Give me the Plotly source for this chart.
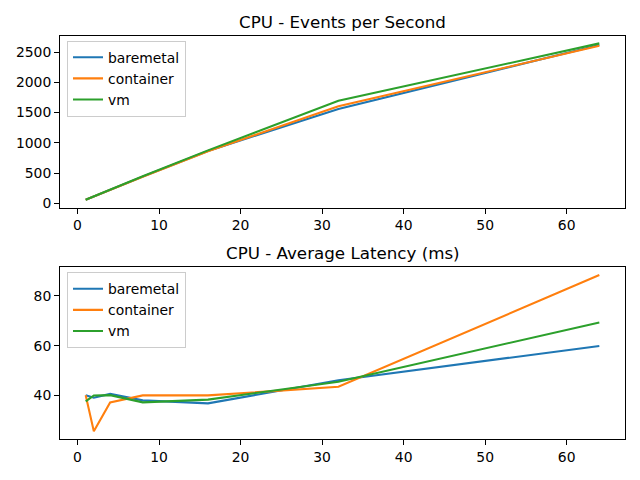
import plotly.graph_objects as go

threads = [1, 2, 4, 8, 16, 32, 64]

eps_baremetal = [57, 113, 225, 440, 865, 1560, 2620]
eps_container = [57, 113, 224, 438, 860, 1603, 2605]
eps_vm = [58, 115, 228, 445, 875, 1696, 2645]

lat_baremetal = [40.1, 39.1, 40.6, 38.0, 36.8, 46.1, 59.9]
lat_container = [40.1, 25.6, 37.2, 40.0, 40.0, 43.5, 88.4]
lat_vm = [37.6, 40.0, 40.1, 37.2, 38.3, 45.5, 69.3]

names = ["baremetal", "container", "vm"]
colors = ["#1f77b4", "#ff7f0e", "#2ca02c"]
titles = ["CPU - Events per Second", "CPU - Average Latency (ms)"]

FONT = "DejaVu Sans"
fig = go.Figure()

for name, col, ys in zip(names, colors, [eps_baremetal, eps_container, eps_vm]):
    fig.add_trace(go.Scatter(x=threads, y=ys, mode="lines", name=name,
                             line=dict(color=col, width=2.08),
                             xaxis="x", yaxis="y", legend="legend"))
for name, col, ys in zip(names, colors, [lat_baremetal, lat_container, lat_vm]):
    fig.add_trace(go.Scatter(x=threads, y=ys, mode="lines", name=name,
                             line=dict(color=col, width=2.08),
                             xaxis="x2", yaxis="y2", legend="legend2"))

# page body has ~8px margin; work in window pixel coordinates
OFF = 8
W, H = 640 - 2 * OFF, 480 - 2 * OFF


def px(X):
    return (X - OFF) / W


def py(Y):
    return (OFF + H - Y) / H


xd = [px(60), px(625)]
top_dom = [py(209), py(36)]
bot_dom = [py(442), py(269)]

axis_common = dict(showline=True, linecolor="black", linewidth=1.1, mirror=True,
                   ticks="outside", ticklen=4.9, tickwidth=1.1, tickcolor="black",
                   showgrid=False, zeroline=False,
                   tickfont=dict(family=FONT, size=13.9, color="black"))

legend_common = dict(x=px(67), xanchor="left", bgcolor="rgba(255,255,255,0.8)",
                     bordercolor="#cccccc", borderwidth=1,
                     font=dict(family=FONT, size=13.9, color="black"),
                     itemwidth=30, tracegroupgap=0)

fig.update_layout(
    width=W, height=H,
    margin=dict(l=0, r=0, t=0, b=0),
    paper_bgcolor="white", plot_bgcolor="white",
    font=dict(family=FONT, size=13.9, color="black"),
    xaxis=dict(domain=xd, anchor="y", range=[-2.15, 67.15], dtick=10, tick0=0, **axis_common),
    yaxis=dict(domain=top_dom, anchor="x", range=[-74, 2770], dtick=500, tick0=0, **axis_common),
    xaxis2=dict(domain=xd, anchor="y2", range=[-2.15, 67.15], dtick=10, tick0=0, **axis_common),
    yaxis2=dict(domain=bot_dom, anchor="x2", range=[22.4, 91.5], dtick=20, tick0=0, **axis_common),
    legend=dict(y=py(41), yanchor="top", **legend_common),
    legend2=dict(y=py(274), yanchor="top", **legend_common),
    annotations=[
        dict(text=titles[0], x=(xd[0] + xd[1]) / 2, y=py(22), xref="paper", yref="paper",
             xanchor="center", yanchor="middle", showarrow=False,
             font=dict(family=FONT, size=16.7, color="black")),
        dict(text=titles[1], x=(xd[0] + xd[1]) / 2, y=py(255), xref="paper", yref="paper",
             xanchor="center", yanchor="middle", showarrow=False,
             font=dict(family=FONT, size=16.7, color="black")),
    ],
)

fig.write_html("out.html")
